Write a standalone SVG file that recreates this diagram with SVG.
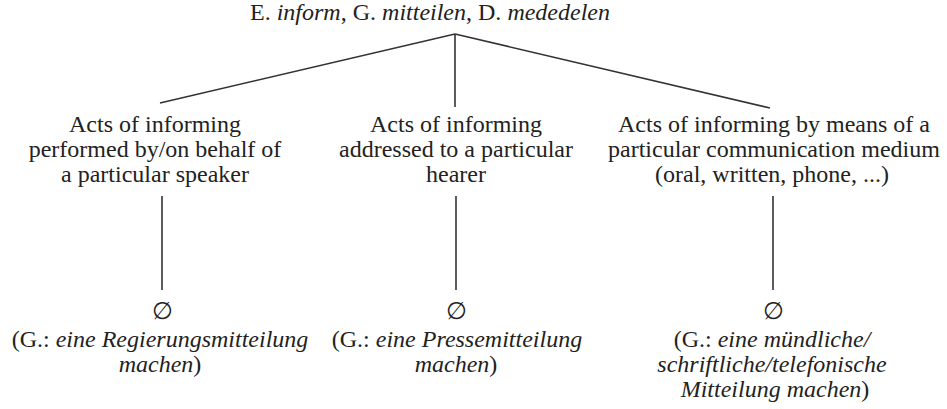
<svg xmlns="http://www.w3.org/2000/svg" width="947" height="409" viewBox="0 0 947 409">
<style>
text{font-family:"Liberation Serif","Times New Roman",serif;font-size:24px;fill:#222;text-anchor:middle}
.i{font-style:italic}
line{stroke:#333;stroke-width:1.6}
</style>
<rect width="947" height="409" fill="#fff"/>
<g id="root"><text x="430" y="20">E. <tspan class="i">inform</tspan>, G. <tspan class="i">mitteilen</tspan>, D. <tspan class="i">mededelen</tspan></text></g>
<g id="n1">
<text x="155" y="132">Acts of informing</text>
<text x="155" y="157">performed by/on behalf of</text>
<text x="155" y="182">a particular speaker</text>
</g>
<g id="n2">
<text x="456" y="132">Acts of informing</text>
<text x="456" y="157">addressed to a particular</text>
<text x="456" y="182">hearer</text>
</g>
<g id="n3">
<text x="774" y="132">Acts of informing by means of a</text>
<text x="774" y="157">particular communication medium</text>
<text x="772" y="182">(oral, written, phone, ...)</text>
</g>
<g id="e1">
<text x="162" y="319">∅</text>
<text x="160" y="347">(G.: <tspan class="i">eine Regierungsmitteilung</tspan></text>
<text x="160" y="372"><tspan class="i">machen</tspan>)</text>
</g>
<g id="e2">
<text x="456" y="319">∅</text>
<text x="457" y="347">(G.: <tspan class="i">eine Pressemitteilung</tspan></text>
<text x="456" y="372"><tspan class="i">machen</tspan>)</text>
</g>
<g id="e3">
<text x="773" y="319">∅</text>
<text x="772" y="347">(G.: <tspan class="i">eine mündliche/</tspan></text>
<text x="772" y="372" class="i">schriftliche/telefonische</text>
<text x="775" y="397"><tspan class="i">Mitteilung machen</tspan>)</text>
</g>
<g id="connectors">
<line x1="455" y1="34" x2="160" y2="103"/>
<line x1="455" y1="34" x2="455" y2="107"/>
<line x1="455" y1="34" x2="770" y2="108"/>
<line x1="162" y1="196" x2="162" y2="290"/>
<line x1="456" y1="196" x2="456" y2="290"/>
<line x1="773" y1="196" x2="773" y2="290"/>
</g>
</svg>
